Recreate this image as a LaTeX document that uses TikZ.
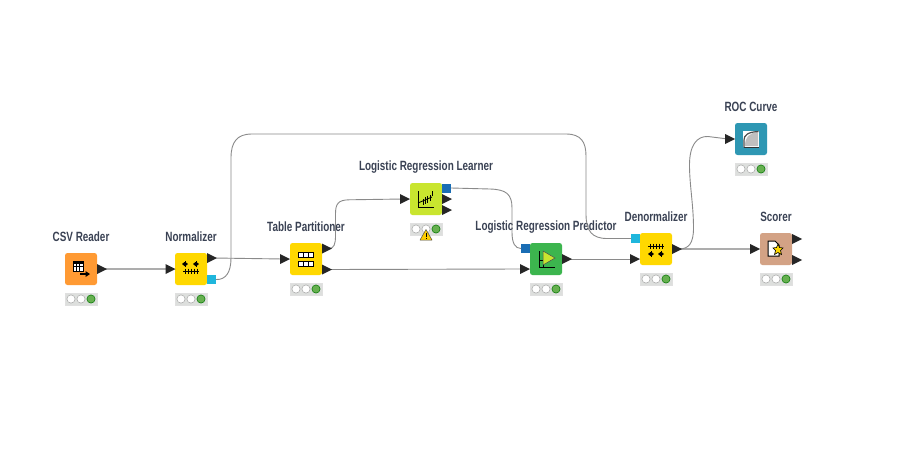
\documentclass[tikz,border=0pt]{standalone}
\usepackage{fontspec}
\setmainfont{Liberation Sans}[FakeStretch=0.74]
\usetikzlibrary{positioning}
\definecolor{cSrc}{HTML}{FF9A33}
\definecolor{cMan}{HTML}{FFD800}
\definecolor{cLrn}{HTML}{C9E52F}
\definecolor{cPrd}{HTML}{3CB54E}
\definecolor{cViz}{HTML}{2E97B3}
\definecolor{cSco}{HTML}{D3A285}
\definecolor{cBlue}{HTML}{1A6DB4}
\definecolor{cCyan}{HTML}{1FB6DC}
\definecolor{cTxt}{HTML}{3A4254}
\definecolor{cEdge}{HTML}{8A8A8A}
\definecolor{cLamp}{HTML}{66B04F}
\definecolor{cStat}{HTML}{DDDFDD}
\tikzset{
  x=1pt,y=-1pt,
  nodebox/.style={rounded corners=2.5pt,minimum size=32pt,inner sep=0pt,outer sep=0pt,line width=0pt},
  nodelabel/.style={font=\fontsize{13.4}{15}\selectfont\bfseries,text=cTxt,inner sep=0pt,anchor=center},
  edge/.style={cEdge,line width=0.9pt},
  thickedge/.style={draw=cEdge!70,line width=1.5pt},
  porttri/.style={fill=black!85,draw=none},
  portsq/.style={minimum size=9pt,inner sep=0pt,outer sep=0pt},
  statbox/.style={fill=cStat,draw=black!12,line width=0.4pt,minimum width=31.5pt,minimum height=11.5pt,inner sep=0pt},
  lampoff/.style={circle,fill=white,draw=black!35,line width=0.5pt,minimum size=8.2pt,inner sep=0pt},
  lampon/.style={circle,fill=cLamp,draw=black!55!green,line width=0.5pt,minimum size=8.2pt,inner sep=0pt},
  ico/.style={draw=black,line width=0.9pt},
}
% \wf{name}{cx}{cy}{colour}{label}
\newcommand{\wf}[5]{%
  \node[nodebox,fill=#4] (#1) at (#2,#3) {};
  \node[nodelabel] (#1L) at (#2,#3-32) {#5};
  \node[statbox] (#1S) at (#2,#3+30) {};
  \node[lampoff] at (#2-10,#3+30) {};
  \node[lampoff] at (#2,#3+30) {};
  \node[lampon] at (#2+10,#3+30) {};
}
% \oport{name}{left x}{cy}  triangle pointing right
\newcommand{\oport}[3]{%
  \fill[porttri] (#2,#3-5) -- (#2+10,#3) -- (#2,#3+5) -- cycle;
  \coordinate (#1) at (#2+8,#3);
}
\begin{document}
\begin{tikzpicture}
\useasboundingbox (0,0) rectangle (914,458);
\fill[white] (0,0) rectangle (914,458);

\wf{csv}{81}{269}{cSrc}{CSV Reader}
\wf{norm}{191}{269}{cMan}{Normalizer}
\wf{part}{306}{259}{cMan}{Table Partitioner}
\wf{lrn}{426}{199}{cLrn}{Logistic Regression Learner}
\wf{prd}{546}{259}{cPrd}{Logistic Regression Predictor}
\wf{den}{656}{249}{cMan}{Denormalizer}
\wf{roc}{751}{139}{cViz}{ROC Curve}
\wf{sco}{776}{249}{cSco}{Scorer}

% square ports
\node[portsq,fill=cCyan] (normQ) at (211.5,279.5) {};
\node[portsq,fill=cBlue] (lrnQ) at (446.5,188) {};
\node[portsq,fill=cBlue] (prdQ) at (525.5,248.5) {};
\node[portsq,fill=cCyan] (denQ) at (635.5,238.5) {};

% edges (under the triangles)
\coordinate (csvO) at (104,269);
\coordinate (normI) at (168,269);
\coordinate (normO) at (214,258);
\coordinate (partI) at (283,259);
\coordinate (partA) at (329,248.5);
\coordinate (partB) at (329,269.5);
\coordinate (lrnI) at (403,199);
\coordinate (prdI) at (523,269);
\coordinate (prdO) at (569,259);
\coordinate (denI) at (633,259);
\coordinate (denO) at (679,249);
\coordinate (rocI) at (728,139);
\coordinate (scoI) at (753,249);

\draw[thickedge] (csvO) -- (normI);
\draw[edge] (normO) -- (partI);
\draw[edge] (normQ.east) .. controls (226,280) and (231,272) .. (231,258)
  -- (231,158) .. controls (231,142) and (237,134) .. (252,134)
  -- (566,134) .. controls (581,134) and (586,142) .. (586,156)
  -- (586,214) .. controls (586,231) and (592,238.5) .. (607,238.5) -- (denQ.west);
\draw[edge] (partA) .. controls (334,248.5) and (335.5,244) .. (335.5,236)
  -- (335.5,214) .. controls (335.5,204) and (338,200) .. (349,199.8) -- (lrnI);
\draw[edge] (partB) -- (prdI);
\draw[edge] (lrnQ.east) -- (490,189) .. controls (506,189.5) and (512,194) .. (512,208)
  -- (512,232) .. controls (512,243) and (515,248.5) .. (prdQ.west);
\draw[edge] (prdO) -- (denI);
\draw[thickedge] (denO) -- (scoI);
\draw[edge] (denO) .. controls (689,249) and (693.5,243) .. (693.5,228)
  .. controls (693.5,205) and (689.5,185) .. (689.5,165)
  .. controls (689.5,145) and (697,136) .. (708,136.5) -- (rocI);

% triangle ports
\oport{a1}{97}{269}
\oport{a2}{165.5}{269}
\oport{a3}{207}{258}
\oport{a4}{280}{259}
\oport{a5}{322}{248.5}
\oport{a6}{322}{269.5}
\oport{a7}{400}{199}
\oport{a8}{442}{199}
\oport{a9}{442}{210}
\oport{a10}{520}{269}
\oport{a11}{562}{259}
\oport{a12}{630}{259}
\oport{a13}{672}{249}
\oport{a14}{725}{139}
\oport{a15}{750}{249}
\oport{a16}{792}{239}
\oport{a17}{792}{260}

% --- icons ---
% CSV Reader: grid + arrow
\begin{scope}[shift={(csv.center)}]
  \draw[ico,fill=white] (-8,-8) rectangle (2,2);
  \fill[black] (-8,-8) rectangle (2,-5.5);
  \draw[black,line width=0.7pt] (-8,-2.2) -- (2,-2.2) (-4.7,-8) -- (-4.7,2) (-1.4,-8) -- (-1.4,2);
  \draw[black,line width=1.3pt] (-1,5) -- (5,5);
  \fill[black] (4.5,2) -- (9,5) -- (4.5,8) -- cycle;
\end{scope}
% Normalizer
\begin{scope}[shift={(norm.center)}]
  \draw[black,line width=0.8pt] (-8,2) -- (8,2);
  \foreach \i in {-6,-3,0,3,6} \draw[black,line width=0.8pt] (\i,-0.5) -- (\i,4.5);
  \foreach \s in {-6,5} {
    \draw[black,line width=0.9pt] (\s,-8) -- (\s,-2);
    \fill[black] (\s-3,-5) -- (\s-0.5,-7) -- (\s+0.5,-7) -- (\s+3,-5) -- (\s+0.5,-3) -- (\s-0.5,-3) -- cycle;
  }
\end{scope}
% Table Partitioner
\begin{scope}[shift={(part.center)}]
  \foreach \yy in {-7,2} {
    \draw[black,line width=1pt,fill=white] (-7.5,\yy) rectangle (7.5,\yy+5);
    \draw[black,line width=1pt] (-2.5,\yy) -- (-2.5,\yy+5) (2.5,\yy) -- (2.5,\yy+5);
  }
\end{scope}
% Learner
\begin{scope}[shift={(lrn.center)}]
  \draw[black,line width=0.9pt] (-8,-8) -- (-8,8) -- (8,8);
  \draw[black,line width=0.8pt] (-8,4) -- (6,-2);
  \draw[black,line width=1pt] (-3,0) -- (-3,6) (-0.5,-2) -- (-0.5,5) (1.8,-3) -- (1.8,4) (4,-4) -- (4,2) (6,-8) -- (6,-3.5);
\end{scope}
% Predictor
\begin{scope}[shift={(prd.center)}]
  \draw[black,line width=0.9pt] (-7,-8) -- (-7,8) -- (9,8);
  \draw[black,line width=0.8pt] (-7,1) -- (-3,1);
  \draw[black,line width=0.8pt] (-3,-8) -- (-3,8);
  \draw[black!70,line width=0.5pt,fill=cLrn] (-3,-8) -- (9,-1) -- (-3,6) -- cycle;
\end{scope}
% Denormalizer
\begin{scope}[shift={(den.center)}]
  \draw[black,line width=0.8pt] (-8,-3) -- (8,-3);
  \foreach \i in {-6,-3,0,3,6} \draw[black,line width=0.8pt] (\i,-5.5) -- (\i,-0.5);
  \foreach \s in {-5,5} {
    \draw[black,line width=0.9pt] (\s,2) -- (\s,8);
    \fill[black] (\s-3,5) -- (\s-0.5,3) -- (\s+0.5,3) -- (\s+3,5) -- (\s+0.5,7) -- (\s-0.5,7) -- cycle;
  }
\end{scope}
% ROC Curve
\begin{scope}[shift={(roc.center)}]
  \fill[white] (-8,-8) rectangle (8,8);
  \fill[black!25] (-6,7) .. controls (-6,-2) and (-2,-6) .. (7,-7) -- (7,7) -- cycle;
  \draw[black!80,line width=1pt] (-7.5,8) -- (7.5,8);
  \draw[black!70,line width=1.2pt] (-7,8) -- (-7,1) .. controls (-7,-4) and (-3,-7) .. (7.5,-7.5);
\end{scope}
% Scorer
\begin{scope}[shift={(sco.center)}]
  \draw[black,line width=1pt,fill=white] (-8,-8) -- (-1,-8) -- (3,-4) -- (3,7) -- (-8,7) -- cycle;
  \fill[cMan,draw=black,line width=0.6pt] (2,-5)
    -- (3.5,-1.5) -- (7,-1) -- (4.5,1.5) -- (5.5,5.5) -- (2,3.5) -- (-1.5,5.5) -- (-0.5,1.5) -- (-3,-1) -- (0.5,-1.5) -- cycle;
\end{scope}
% warning triangle
\path[fill=cMan!90!orange,draw=black!70,line width=0.5pt,line join=round] (426,229.5) -- (432,240) -- (420,240) -- cycle;
\draw[black,line width=1pt] (426,232.5) -- (426,236.5) (426,237.5) -- (426,238.8);
\end{tikzpicture}
\end{document}
